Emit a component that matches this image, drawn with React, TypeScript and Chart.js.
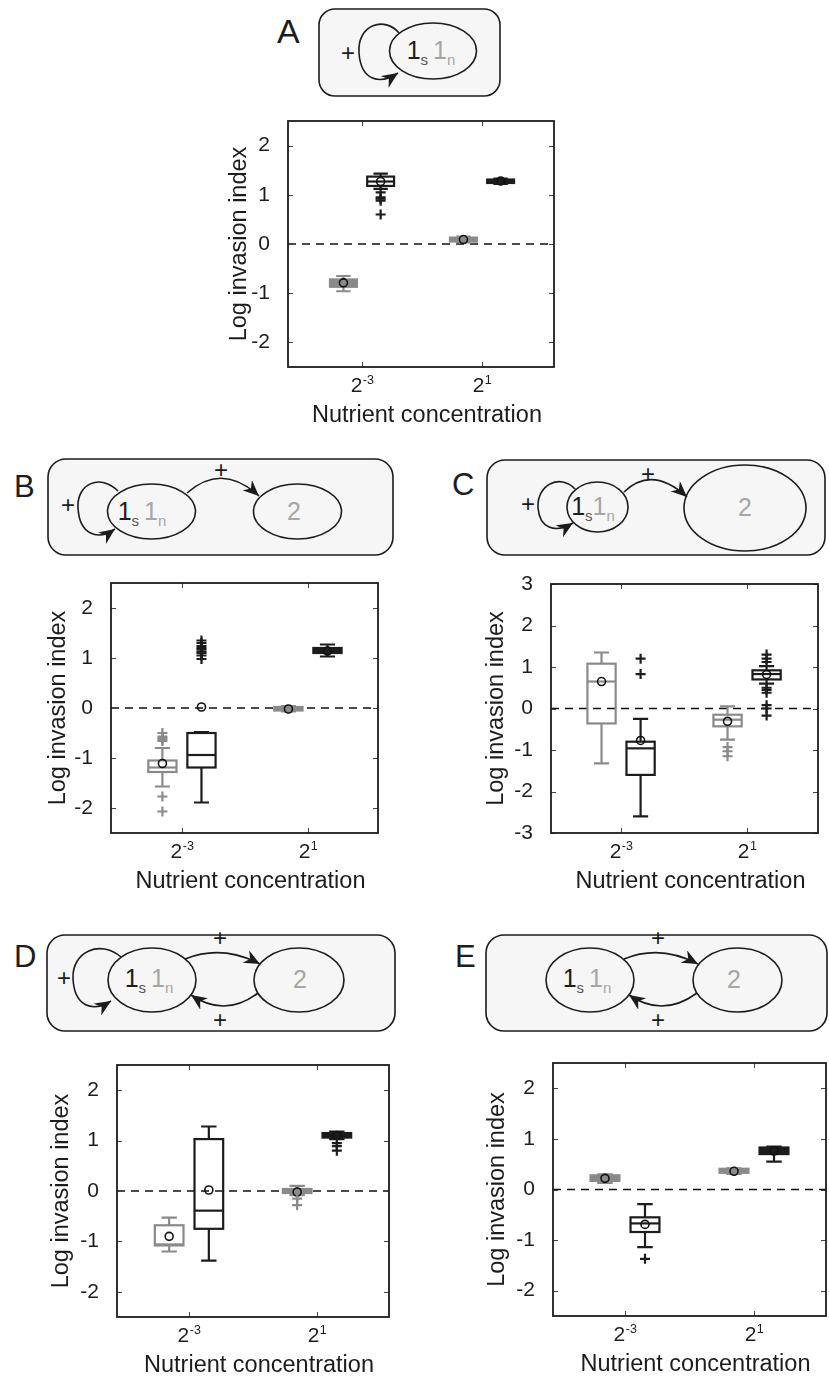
import React, { useEffect, useRef } from 'react';
import { Chart, registerables } from 'chart.js';

Chart.register(...registerables);

// ---------- shared axis data ----------
const CONC_BASE = ['2', '2'];
const CONC_EXP = ['-3', '1'];
const CONC_X = [1, 2];
// box slots: gray = strain 1n, black = strain 1s, at each nutrient concentration
const BOX_X = [0.845, 1.155, 1.845, 2.155];
const Y_TICKS = [-2, -1, 0, 1, 2];
const Y_TICKS_WIDE = [-3, -2, -1, 0, 1, 2, 3];

// ---------- panel A ----------
const A_LO = [-0.96, 1.12, 0.03, 1.22];
const A_Q1 = [-0.87, 1.18, 0.05, 1.24];
const A_MED = [-0.8, 1.27, 0.09, 1.28];
const A_Q3 = [-0.72, 1.37, 0.13, 1.31];
const A_HI = [-0.65, 1.43, 0.15, 1.33];
const A_MEAN = [-0.79, 1.27, 0.09, 1.28];
const A_OUT = [[], [1.05, 0.95, 0.92, 0.88, 0.6], [], []];

// ---------- panel B ----------
const B_LO = [-1.57, -1.89, -0.07, 1.03];
const B_Q1 = [-1.28, -1.19, -0.05, 1.1];
const B_MED = [-1.19, -0.94, -0.02, 1.15];
const B_Q3 = [-1.05, -0.5, 0.02, 1.2];
const B_HI = [-0.8, -0.48, 0.04, 1.27];
const B_MEAN = [-1.11, 0.02, -0.02, 1.14];
const B_OUT = [
  [-0.5, -0.57, -0.6, -0.63, -0.66, -1.77, -2.07],
  [0.98, 1.05, 1.1, 1.13, 1.17, 1.2, 1.24, 1.3, 1.35],
  [],
  [],
];

// ---------- panel C ----------
const C_LO = [-1.32, -2.6, -0.75, 0.6];
const C_Q1 = [-0.36, -1.6, -0.43, 0.7];
const C_MED = [0.65, -0.96, -0.27, 0.83];
const C_Q3 = [1.08, -0.8, -0.15, 0.92];
const C_HI = [1.35, -0.25, 0.05, 1.02];
const C_MEAN = [0.65, -0.77, -0.31, 0.82];
const C_OUT = [
  [],
  [1.2, 0.83],
  [-0.93, -1.03, -1.15],
  [1.3, 1.2, 1.12, 0.5, 0.45, 0.38, 0.08, 0.0, -0.17],
];

// ---------- panel D ----------
const D_LO = [-1.2, -1.38, -0.08, 1.03];
const D_Q1 = [-1.08, -0.75, -0.04, 1.06];
const D_MED = [-1.06, -0.39, -0.01, 1.1];
const D_Q3 = [-0.68, 1.03, 0.04, 1.15];
const D_HI = [-0.53, 1.28, 0.1, 1.18];
const D_MEAN = [-0.9, 0.02, -0.02, 1.1];
const D_OUT = [[], [], [-0.15, -0.28], [0.95, 0.89, 0.8]];

// ---------- panel E ----------
const E_LO = [0.13, -1.14, 0.31, 0.55];
const E_Q1 = [0.17, -0.84, 0.33, 0.7];
const E_MED = [0.22, -0.67, 0.37, 0.76];
const E_Q3 = [0.28, -0.55, 0.41, 0.83];
const E_HI = [0.3, -0.29, 0.42, 0.85];
const E_MEAN = [0.22, -0.69, 0.36, 0.76];
const E_OUT = [[], [-1.37], [], []];

// ---------- styling ----------
const FONT = '"Liberation Sans", Arial, Helvetica, sans-serif';
const INK = '#1c1c1c';
const GRAY = '#8a8a8a';
const LIGHT = '#a6a6a6';
const PANEL_BG = '#f6f6f6';
const BOX_COLORS = [GRAY, INK, GRAY, INK];
const BOX_HALF = 0.112;
const CAP_HALF = 0.06;
const Y_W = 90;
const PAD_T = 26;
const PAD_R = 8;
const X_H = 64;

type Stats = {
  lo: number[];
  q1: number[];
  med: number[];
  q3: number[];
  hi: number[];
  mean: number[];
  out: number[][];
};

type Frame = {
  left: number;
  top: number;
  right: number;
  bottom: number;
  xMin: number;
  xMax: number;
  yMin: number;
  yMax: number;
  yTicks: number[];
  titleOff: number;
};

const PANELS: { key: string; stats: Stats; frame: Frame }[] = [
  {
    key: 'A',
    stats: { lo: A_LO, q1: A_Q1, med: A_MED, q3: A_Q3, hi: A_HI, mean: A_MEAN, out: A_OUT },
    frame: { left: 288, top: 121, right: 554, bottom: 367, xMin: 0.383, xMax: 2.6, yMin: -2.5, yMax: 2.5, yTicks: Y_TICKS, titleOff: 48 },
  },
  {
    key: 'B',
    stats: { lo: B_LO, q1: B_Q1, med: B_MED, q3: B_Q3, hi: B_HI, mean: B_MEAN, out: B_OUT },
    frame: { left: 111, top: 583, right: 378, bottom: 833, xMin: 0.437, xMax: 2.556, yMin: -2.5, yMax: 2.5, yTicks: Y_TICKS, titleOff: 52 },
  },
  {
    key: 'C',
    stats: { lo: C_LO, q1: C_Q1, med: C_MED, q3: C_Q3, hi: C_HI, mean: C_MEAN, out: C_OUT },
    frame: { left: 551, top: 584, right: 818, bottom: 833, xMin: 0.444, xMax: 2.563, yMin: -3, yMax: 3, yTicks: Y_TICKS_WIDE, titleOff: 54 },
  },
  {
    key: 'D',
    stats: { lo: D_LO, q1: D_Q1, med: D_MED, q3: D_Q3, hi: D_HI, mean: D_MEAN, out: D_OUT },
    frame: { left: 117, top: 1065, right: 389, bottom: 1317, xMin: 0.4375, xMax: 2.5625, yMin: -2.5, yMax: 2.5, yTicks: Y_TICKS, titleOff: 55 },
  },
  {
    key: 'E',
    stats: { lo: E_LO, q1: E_Q1, med: E_MED, q3: E_Q3, hi: E_HI, mean: E_MEAN, out: E_OUT },
    frame: { left: 553, top: 1063, right: 826, bottom: 1316, xMin: 0.442, xMax: 2.558, yMin: -2.5, yMax: 2.5, yTicks: Y_TICKS, titleOff: 55 },
  },
];

// Draws boxes, whiskers, the zero reference line, the axes frame and the x labels.
function boxPlotPlugin(s: Stats, tightPx: number, yTicks: number[]) {
  return {
    id: 'boxPlot',
    beforeDatasetsDraw(chart: any) {
      const { ctx, chartArea: a, scales } = chart;
      const x = scales.x;
      const y = scales.y;
      ctx.save();
      // dashed zero line
      const y0 = y.getPixelForValue(0);
      ctx.setLineDash([8, 6]);
      ctx.lineWidth = 1.6;
      ctx.strokeStyle = '#111';
      ctx.beginPath();
      ctx.moveTo(a.left, y0);
      ctx.lineTo(a.right, y0);
      ctx.stroke();
      ctx.setLineDash([]);

      for (let i = 0; i < BOX_X.length; i++) {
        const cx = x.getPixelForValue(BOX_X[i]);
        const hw = x.getPixelForValue(BOX_X[i] + BOX_HALF) - cx;
        const cw = x.getPixelForValue(BOX_X[i] + CAP_HALF) - cx;
        const pLo = y.getPixelForValue(s.lo[i]);
        const pQ1 = y.getPixelForValue(s.q1[i]);
        const pMed = y.getPixelForValue(s.med[i]);
        const pQ3 = y.getPixelForValue(s.q3[i]);
        const pHi = y.getPixelForValue(s.hi[i]);
        const col = BOX_COLORS[i];
        ctx.strokeStyle = col;
        ctx.lineWidth = 2.2;
        ctx.lineCap = 'butt';
        ctx.beginPath();
        // whiskers
        ctx.moveTo(cx, pHi);
        ctx.lineTo(cx, pQ3);
        ctx.moveTo(cx, pQ1);
        ctx.lineTo(cx, pLo);
        // caps
        ctx.moveTo(cx - cw, pHi);
        ctx.lineTo(cx + cw, pHi);
        ctx.moveTo(cx - cw, pLo);
        ctx.lineTo(cx + cw, pLo);
        ctx.stroke();
        // box
        const bh = pQ1 - pQ3;
        if (bh < tightPx) {
          ctx.fillStyle = col;
          ctx.fillRect(cx - hw, pQ3, 2 * hw, bh);
        }
        ctx.strokeRect(cx - hw, pQ3, 2 * hw, bh);
        // median
        ctx.beginPath();
        ctx.moveTo(cx - hw, pMed);
        ctx.lineTo(cx + hw, pMed);
        ctx.stroke();
      }
      ctx.restore();
    },
    afterDraw(chart: any) {
      const { ctx, chartArea: a, scales } = chart;
      const x = scales.x;
      const y = scales.y;
      ctx.save();
      // inward ticks on all four sides
      ctx.strokeStyle = '#444';
      ctx.lineWidth = 1;
      ctx.beginPath();
      yTicks.forEach((v) => {
        const py = Math.round(y.getPixelForValue(v)) + 0.5;
        ctx.moveTo(a.left, py);
        ctx.lineTo(a.left + 5, py);
        ctx.moveTo(a.right, py);
        ctx.lineTo(a.right - 5, py);
      });
      CONC_X.forEach((v) => {
        const px = Math.round(x.getPixelForValue(v)) + 0.5;
        ctx.moveTo(px, a.top);
        ctx.lineTo(px, a.top + 5);
        ctx.moveTo(px, a.bottom);
        ctx.lineTo(px, a.bottom - 5);
      });
      ctx.stroke();
      // frame
      ctx.strokeStyle = INK;
      ctx.lineWidth = 1.8;
      ctx.strokeRect(a.left, a.top, a.right - a.left, a.bottom - a.top);

      // x tick labels with superscript exponents
      ctx.fillStyle = INK;
      ctx.textBaseline = 'alphabetic';
      ctx.textAlign = 'left';
      CONC_X.forEach((v, i) => {
        const px = x.getPixelForValue(v);
        ctx.font = `21px ${FONT}`;
        const wb = ctx.measureText(CONC_BASE[i]).width;
        ctx.font = `12.5px ${FONT}`;
        const we = ctx.measureText(CONC_EXP[i]).width;
        const x0 = px - (wb + we) / 2;
        ctx.font = `21px ${FONT}`;
        ctx.fillText(CONC_BASE[i], x0, a.bottom + 25);
        ctx.font = `12.5px ${FONT}`;
        ctx.fillText(CONC_EXP[i], x0 + wb + 0.5, a.bottom + 17);
      });
      // x axis title
      ctx.font = `23.5px ${FONT}`;
      ctx.textAlign = 'center';
      ctx.fillText('Nutrient concentration', (a.left + a.right) / 2 + 6, a.bottom + 55);
      ctx.restore();
    },
  };
}

function BoxPanel({ stats, frame }: { stats: Stats; frame: Frame }) {
  const ref = useRef<HTMLCanvasElement>(null);
  const cl = frame.left - Y_W;
  const ct = frame.top - PAD_T;
  const w = frame.right - cl + PAD_R;
  const h = frame.bottom - ct + X_H;

  useEffect(() => {
    if (!ref.current) return;
    const pxPerUnit = (frame.bottom - frame.top) / (frame.yMax - frame.yMin);
    const tightPx = 8;
    const meanFill = stats.q1.map((q, i) =>
      (stats.q3[i] - q) * pxPerUnit < tightPx ? BOX_COLORS[i] : 'rgba(0,0,0,0)'
    );
    const datasets: any[] = stats.out.map((vals, i) => ({
      label: `outliers ${i}`,
      data: vals.map((v) => ({ x: BOX_X[i], y: v })),
      showLine: false,
      pointStyle: 'cross',
      pointRadius: 5,
      pointHoverRadius: 5,
      pointBorderWidth: 2.2,
      pointBorderColor: BOX_COLORS[i],
      borderColor: BOX_COLORS[i],
    }));
    datasets.push({
      label: 'mean',
      data: stats.mean.map((v, i) => ({ x: BOX_X[i], y: v })),
      showLine: false,
      pointStyle: 'circle',
      pointRadius: 4,
      pointHoverRadius: 4,
      pointBorderWidth: 1.6,
      pointBorderColor: '#111',
      pointBackgroundColor: meanFill,
    });

    const titleFont = { family: FONT, size: 23.5 };
    const chart = new Chart(ref.current, {
      type: 'scatter',
      data: { datasets },
      options: {
        animation: false,
        responsive: false,
        events: [],
        layout: { padding: { top: PAD_T, right: PAD_R, bottom: 0, left: 0 } },
        plugins: { legend: { display: false }, tooltip: { enabled: false } },
        scales: {
          x: {
            type: 'linear',
            min: frame.xMin,
            max: frame.xMax,
            grid: { display: false },
            border: { display: false },
            ticks: { display: false },
            afterFit: (sc: any) => {
              sc.height = X_H;
            },
          },
          y: {
            type: 'linear',
            min: frame.yMin,
            max: frame.yMax,
            grid: { display: false },
            border: { display: false },
            afterBuildTicks: (sc: any) => {
              sc.ticks = frame.yTicks.map((v) => ({ value: v }));
            },
            ticks: {
              padding: 10,
              color: INK,
              font: { family: FONT, size: 21 },
              callback: (v: any) => String(v),
            },
            title: {
              display: true,
              text: 'Log invasion index',
              color: INK,
              font: titleFont,
              padding: { top: Y_W - 14.1 - frame.titleOff, bottom: 0 },
            },
            afterFit: (sc: any) => {
              sc.width = Y_W;
            },
          },
        },
      },
      plugins: [boxPlotPlugin(stats, tightPx, frame.yTicks)],
    } as any);
    return () => chart.destroy();
  }, [stats, frame]);

  return (
    <div style={{ position: 'absolute', left: cl, top: ct, width: w, height: h }}>
      <canvas ref={ref} width={w} height={h} style={{ display: 'block', width: w, height: h }} />
    </div>
  );
}

function StrainLabel({ x, y, gap }: { x: number; y: number; gap: number }) {
  return (
    <text x={x} y={y} textAnchor="middle" fontFamily={FONT} fontSize={25}>
      <tspan fill={INK}>1</tspan>
      <tspan fill="#555" fontSize={15} dy={6}>s</tspan>
      <tspan fill={LIGHT} dx={gap} dy={-6}>1</tspan>
      <tspan fill={LIGHT} fontSize={15} dy={6}>n</tspan>
    </text>
  );
}

function Plus({ x, y }: { x: number; y: number }) {
  return (
    <text x={x} y={y + 8} textAnchor="middle" fontFamily={FONT} fontSize={24} fill={INK}>
      +
    </text>
  );
}

function Letter({ x, y, size, children }: { x: number; y: number; size: number; children: string }) {
  return (
    <text x={x} y={y} fontFamily={FONT} fontSize={size} fill={INK}>
      {children}
    </text>
  );
}

// Interaction diagrams above each plot
function Diagrams() {
  const line = { fill: 'none', stroke: INK, strokeWidth: 1.6 };
  const box = { fill: PANEL_BG, stroke: INK, strokeWidth: 1.6 };
  const two = { fontFamily: FONT, fontSize: 25, fill: LIGHT, textAnchor: 'middle' as const };
  return (
    <svg width={829} height={1377} style={{ position: 'absolute', left: 0, top: 0, pointerEvents: 'none' }}>
      <defs>
        <marker id="head" markerUnits="userSpaceOnUse" markerWidth={18} markerHeight={14} refX={16} refY={7} orient="auto">
          <path d="M0,0 L16,7 L0,14 L5,7 Z" fill={INK} />
        </marker>
      </defs>

      {/* A: 1 with self-activation */}
      <Letter x={277} y={43} size={34}>A</Letter>
      <rect x={319} y={9} width={181} height={87} rx={16} {...box} />
      <path d="M 399 33 C 385 16, 357 24, 359 53 C 361 81, 380 85, 398 73" {...line} markerEnd="url(#head)" />
      <ellipse cx={433} cy={51} rx={43.5} ry={28} {...line} />
      <StrainLabel x={431} y={59} gap={5} />
      <Plus x={348} y={53} />

      {/* B: 1 activates 2 */}
      <Letter x={14} y={497} size={31}>B</Letter>
      <rect x={48} y={459} width={345} height={96} rx={18} {...box} />
      <path d="M 118 491 C 100 473, 77 484, 78 507 C 79 535, 98 541, 115 529" {...line} markerEnd="url(#head)" />
      <path d="M 187 493 Q 222 462 259 496" {...line} markerEnd="url(#head)" />
      <ellipse cx={151.5} cy={511.5} rx={44} ry={27.5} {...line} />
      <ellipse cx={297.5} cy={511.5} rx={44} ry={27.5} {...line} />
      <StrainLabel x={142} y={520} gap={5} />
      <text x={294} y={520} {...two}>2</text>
      <Plus x={68} y={505} />
      <Plus x={221} y={470} />

      {/* C: small 1 activates large 2 */}
      <Letter x={452} y={495} size={31}>C</Letter>
      <rect x={487} y={460} width={338} height={95} rx={18} {...box} />
      <path d="M 575 489 C 560 473, 537 485, 538 507 C 539 528, 555 534, 573 523" {...line} markerEnd="url(#head)" />
      <path d="M 624 492 Q 652 465 687 497" {...line} markerEnd="url(#head)" />
      <ellipse cx={597.5} cy={507} rx={30.5} ry={25} {...line} />
      <ellipse cx={745} cy={508} rx={61} ry={43} {...line} />
      <StrainLabel x={593} y={515} gap={0} />
      <text x={745} y={516} {...two}>2</text>
      <Plus x={528} y={504} />
      <Plus x={648} y={474} />

      {/* D: mutual activation plus self-activation */}
      <Letter x={14} y={967} size={31}>D</Letter>
      <rect x={47} y={935} width={348} height={96} rx={18} {...box} />
      <path d="M 121 957 C 100 939, 72 952, 73 978 C 74 1006, 92 1013, 111 1001" {...line} markerEnd="url(#head)" />
      <path d="M 185 959 Q 222 944 260 964" {...line} markerEnd="url(#head)" />
      <path d="M 258 993 Q 225 1018 191 995" {...line} markerEnd="url(#head)" />
      <ellipse cx={152} cy={980} rx={44} ry={32} {...line} />
      <ellipse cx={299} cy={980} rx={45} ry={32} {...line} />
      <StrainLabel x={149} y={987} gap={5} />
      <text x={300} y={988} {...two}>2</text>
      <Plus x={64} y={978} />
      <Plus x={220} y={938} />
      <Plus x={220} y={1020} />

      {/* E: mutual activation */}
      <Letter x={455} y={967} size={31}>E</Letter>
      <rect x={486} y={935} width={341} height={96} rx={18} {...box} />
      <path d="M 624 959 Q 660 944 698 964" {...line} markerEnd="url(#head)" />
      <path d="M 697 993 Q 663 1018 629 995" {...line} markerEnd="url(#head)" />
      <ellipse cx={590} cy={980} rx={44} ry={32} {...line} />
      <ellipse cx={737.5} cy={980} rx={44.5} ry={32} {...line} />
      <StrainLabel x={587} y={987} gap={5} />
      <text x={734} y={988} {...two}>2</text>
      <Plus x={658} y={938} />
      <Plus x={658} y={1020} />
    </svg>
  );
}

export default function App() {
  return (
    <div style={{ position: 'absolute', left: 0, top: 0, width: 829, height: 1377, background: '#fff', overflow: 'hidden' }}>
      <Diagrams />
      {PANELS.map((p) => (
        <BoxPanel key={p.key} stats={p.stats} frame={p.frame} />
      ))}
    </div>
  );
}
